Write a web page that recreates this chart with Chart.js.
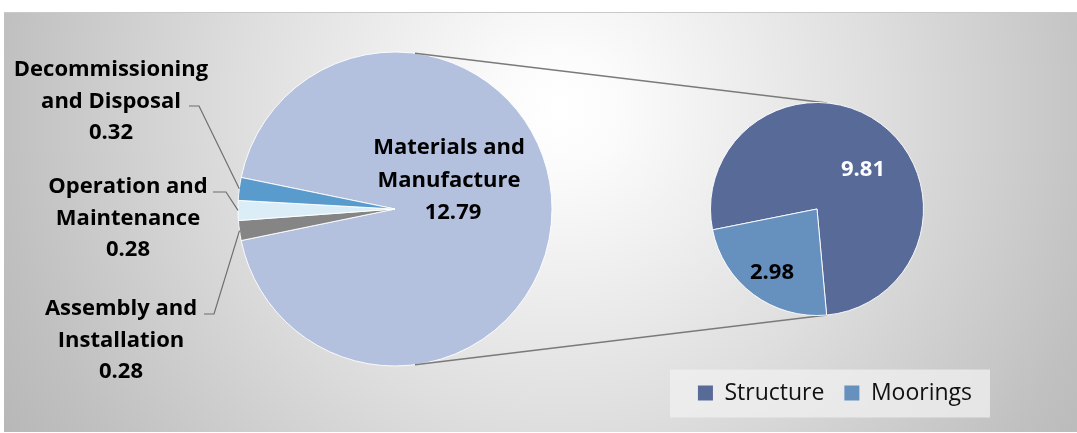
<!DOCTYPE html>
<html lang="en">
<head>
<meta charset="UTF-8">
<title>Cost breakdown</title>
<script src="https://cdn.jsdelivr.net/npm/chart.js@4.4.0/dist/chart.umd.min.js"></script>
<style>
  html, body { margin: 0; padding: 0; background: #fff; }
  .wrap { position: relative; width: 1077px; height: 433px; overflow: hidden; }
  .plot {
    position: absolute; left: 4px; top: 12px; width: 1073px; height: 419px;
    border-top: 1px solid #c9c9c9;
    background: radial-gradient(circle at 556px 95px, #ffffff 0px, #fbfbfb 60px, #dedede 320px, #c0c0c0 560px, #b2b2b2 700px);
  }
  canvas { position: absolute; left: 0; top: 0; }
</style>
</head>
<body>
<div class="wrap">
  <div class="plot"></div>
  <canvas id="mainPie" width="1077" height="433"></canvas>
  <canvas id="subPie" width="1077" height="433"></canvas>
</div>
<script>
// main pie (multi-line labels like the excel callouts)
const mainLabels = [['Materials and', 'Manufacture'], ['Assembly and', 'Installation'], ['Operation and', 'Maintenance'], ['Decommissioning', 'and Disposal']];
const mainValues = [12.79, 0.28, 0.28, 0.32];
const mainColors = ['#b3c0de', '#858585', '#dbeef7', '#5a9bcd'];

// breakdown of materials and manufacture
const subLabels = ['Structure', 'Moorings'];
const subValues = [9.81, 2.98];
const subColors = ['#586a98', '#6690be'];
const subTextColors = ['#ffffff', '#000000'];

const FONT = '"Open Sans", sans-serif';
const LABEL_FONT = 'bold 22px ' + FONT;
const LINE_H = 31.5;

// where the outside callouts sit (centre x, first baseline, leader elbow)
const callouts = [
  null,
  { x: 121, y: 315, x0: 204, x1: 214, ly: 314 },
  { x: 128, y: 193, x0: 213, x1: 226, ly: 192 },
  { x: 111, y: 76, x0: 189, x1: 199, ly: 106 }
];

const smallShare = (mainValues.slice(1).reduce((a, b) => a + b, 0) / mainValues.reduce((a, b) => a + b, 0)) * 360;

const mainText = {
  id: 'mainText',
  afterDatasetsDraw(chart) {
    const ctx = chart.ctx;
    const arcs = chart.getDatasetMeta(0).data;
    ctx.save();
    ctx.font = LABEL_FONT;
    ctx.fillStyle = '#000';
    ctx.textAlign = 'center';
    ctx.textBaseline = 'alphabetic';
    arcs.forEach((arc, i) => {
      const lines = mainLabels[i].concat([mainValues[i].toFixed(2)]);
      const c = callouts[i];
      if (!c) {
        // inside the big slice
        lines.forEach((t, k) => ctx.fillText(t, arc.x + 54 + (k == 2 ? 4 : 0), arc.y - 55 + k * 32.5));
        return;
      }
      lines.forEach((t, k) => ctx.fillText(t, c.x, c.y + k * LINE_H));
      const mid = (arc.startAngle + arc.endAngle) / 2;
      ctx.beginPath();
      ctx.moveTo(c.x0, c.ly);
      ctx.lineTo(c.x1, c.ly);
      ctx.lineTo(arc.x + Math.cos(mid) * arc.outerRadius, arc.y + Math.sin(mid) * arc.outerRadius);
      ctx.strokeStyle = '#6e6e6e';
      ctx.lineWidth = 1.2;
      ctx.stroke();
    });
    ctx.restore();
  }
};

const mainChart = new Chart(document.getElementById('mainPie'), {
  type: 'pie',
  data: {
    labels: mainLabels,
    datasets: [{
      data: mainValues,
      backgroundColor: mainColors,
      borderColor: 'rgba(255,255,255,0.9)',
      borderWidth: 1
    }]
  },
  options: {
    responsive: false,
    animation: false,
    radius: 157,
    rotation: 270 + smallShare / 2,
    layout: { padding: { left: 0, right: 287, top: 0, bottom: 15 } },
    plugins: { legend: { display: false }, tooltip: { enabled: false } }
  },
  plugins: [mainText]
});

const subExtras = {
  id: 'subExtras',
  beforeDraw(chart) {
    // light box behind the legend
    const hb = chart.legend.legendHitBoxes;
    if (!hb || !hb.length) return;
    const first = hb[0], last = hb[hb.length - 1];
    const ctx = chart.ctx;
    ctx.save();
    ctx.fillStyle = 'rgba(240,240,240,0.75)';
    ctx.fillRect(first.left - 28, first.top - 12, last.left + last.width + 18 - (first.left - 28), first.height + 25);
    ctx.restore();
  },
  beforeDatasetsDraw(chart) {
    // connector lines between the two pies
    const big = mainChart.getDatasetMeta(0).data[0];
    const small = chart.getDatasetMeta(0).data[0];
    const a = 7.3 * Math.PI / 180, b = 5.4 * Math.PI / 180;
    const ctx = chart.ctx;
    ctx.save();
    ctx.strokeStyle = '#7a7a7a';
    ctx.lineWidth = 1.5;
    [-1, 1].forEach(s => {
      ctx.beginPath();
      ctx.moveTo(big.x + Math.sin(a) * big.outerRadius, big.y + s * Math.cos(a) * big.outerRadius);
      ctx.lineTo(small.x + Math.sin(b) * small.outerRadius, small.y + s * Math.cos(b) * small.outerRadius);
      ctx.stroke();
    });
    ctx.restore();
  },
  afterDatasetsDraw(chart) {
    const ctx = chart.ctx;
    const arcs = chart.getDatasetMeta(0).data;
    const offs = [[46, -39], [-45, 64]];
    ctx.save();
    ctx.font = LABEL_FONT;
    ctx.textAlign = 'center';
    arcs.forEach((arc, i) => {
      ctx.fillStyle = subTextColors[i];
      ctx.fillText(subValues[i].toFixed(2), arc.x + offs[i][0], arc.y + offs[i][1]);
    });
    ctx.restore();
  }
};

new Chart(document.getElementById('subPie'), {
  type: 'pie',
  data: {
    labels: subLabels,
    datasets: [{
      data: subValues,
      backgroundColor: subColors,
      borderColor: 'rgba(255,255,255,0.9)',
      borderWidth: 1
    }]
  },
  options: {
    responsive: false,
    animation: false,
    radius: 106.5,
    rotation: 258.7,
    layout: { padding: { left: 642, right: 85, top: 56.5, bottom: 18.5 } },
    plugins: {
      tooltip: { enabled: false },
      legend: {
        position: 'bottom',
        align: 'end',
        labels: {
          color: '#111',
          font: { family: FONT, size: 23 },
          boxWidth: 15,
          boxHeight: 15,
          padding: 20,
          generateLabels: chart => Chart.overrides.doughnut.plugins.legend.labels.generateLabels(chart)
            .map(l => Object.assign(l, { strokeStyle: l.fillStyle, lineWidth: 0 }))
        }
      }
    }
  },
  plugins: [subExtras]
});
</script>
</body>
</html>
